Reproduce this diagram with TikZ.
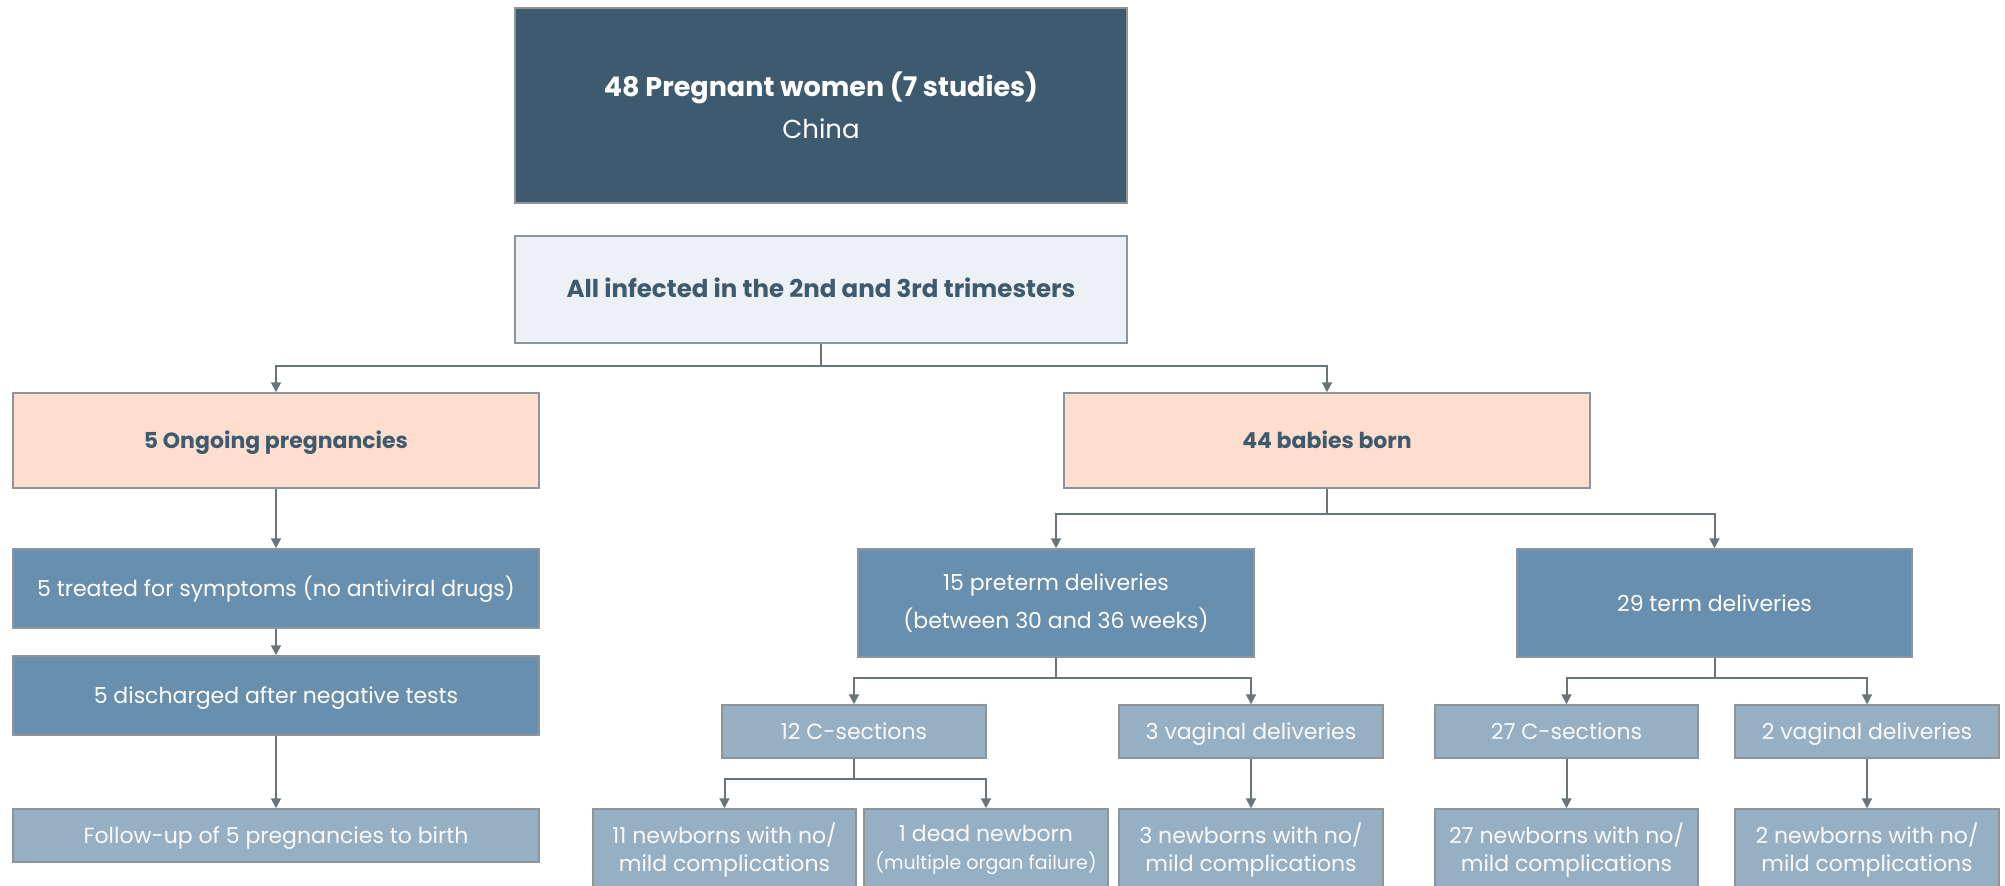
\documentclass[tikz,border=0pt]{standalone}
\usepackage{fontspec}
\setmainfont{Poppins}
\usetikzlibrary{arrows.meta}

\definecolor{ardoise}{HTML}{3E5A6E}
\definecolor{gris}{HTML}{EDF0F5}
\definecolor{peche}{HTML}{FEDFCF}
\definecolor{bleu}{HTML}{688FAD}
\definecolor{bleuclair}{HTML}{96AFC2}
\definecolor{trait}{HTML}{6A7479}
\definecolor{bord}{HTML}{8C959C}

\tikzset{
  boite/.style={draw=bord, line width=1.5pt, inner sep=0pt, align=center},
  titre/.style={boite, fill=ardoise, text=white, font=\fontsize{26}{42}\selectfont},
  entete/.style={boite, fill=gris, text=ardoise, font=\bfseries\fontsize{24.5}{30}\selectfont},
  groupe/.style={boite, fill=peche, text=ardoise, font=\bfseries\fontsize{22}{28}\selectfont},
  etape/.style={boite, fill=bleu, text=white, font=\fontsize{22}{38}\selectfont},
  issue/.style={boite, fill=bleuclair, text=white!94!bleuclair, font=\fontsize{22}{28}\selectfont},
  court/.style={text height=16pt, text depth=0pt},
  fleche/.style={draw=trait, line width=2pt, -{Triangle[length=10pt,width=10pt]}}
}

\begin{document}
\begin{tikzpicture}[x=1pt,y=-1pt]
    \useasboundingbox (0,0) rectangle (2005,886);

    % Les deux boites du haut
    \node[titre, minimum width=612pt, minimum height=195pt] (femmes) at (821,105.5)
        {{\bfseries\fontsize{27}{42}\selectfont 48 Pregnant women (7 studies)}\\China};
    \node[entete, court, minimum width=612pt, minimum height=107pt] (infect) at (821,289.5)
        {All infected in the 2nd and 3rd trimesters};

    % Les deux groupes
    \node[groupe, court, minimum width=526pt, minimum height=95pt] (encours) at (276,440.5) {5 Ongoing pregnancies};
    \node[groupe, court, minimum width=526pt, minimum height=95pt] (nes) at (1327,440.5) {44 babies born};

    % Colonne de gauche
    \node[etape, court, minimum width=526pt, minimum height=79pt] (traite) at (276,588.5)
        {5 treated for symptoms (no antiviral drugs)};
    \node[etape, court, minimum width=526pt, minimum height=79pt] (sortie) at (276,695.5)
        {5 discharged after negative tests};
    \node[issue, court, minimum width=526pt, minimum height=53pt] (suivi) at (276,835.5)
        {Follow-up of 5 pregnancies to birth};

    % Accouchements
    \node[etape, minimum width=396pt, minimum height=108pt] (preterme) at (1056,603)
        {15 preterm deliveries\\(between 30 and 36 weeks)};
    \node[etape, court, minimum width=395pt, minimum height=108pt] (terme) at (1714.5,603)
        {29 term deliveries};

    \node[issue, court, minimum width=264pt, minimum height=53pt] (cesA) at (854,731.5) {12 C-sections};
    \node[issue, court, minimum width=264pt, minimum height=53pt] (vagA) at (1251,731.5) {3 vaginal deliveries};
    \node[issue, court, minimum width=263pt, minimum height=53pt] (cesB) at (1566.5,731.5) {27 C-sections};
    \node[issue, court, minimum width=264pt, minimum height=53pt] (vagB) at (1867,731.5) {2 vaginal deliveries};

    % Nouveau-nes (coupes en bas)
    \node[issue, minimum width=263pt, minimum height=82pt] (nnA) at (724.5,850)
        {11 newborns with no/\\mild complications};
    \node[issue, minimum width=244pt, minimum height=82pt] (mort) at (986,850)
        {1 dead newborn\\{\fontsize{19}{28}\selectfont(multiple organ failure)}};
    \node[issue, minimum width=264pt, minimum height=82pt] (nnB) at (1251,850)
        {3 newborns with no/\\mild complications};
    \node[issue, minimum width=263pt, minimum height=82pt] (nnC) at (1566.5,850)
        {27 newborns with no/\\mild complications};
    \node[issue, minimum width=264pt, minimum height=82pt] (nnD) at (1867,850)
        {2 newborns with no/\\mild complications};

    % Fleches
    \draw[fleche] (infect.south) -- ++(0,22) -| (encours.north);
    \draw[fleche] (infect.south) -- ++(0,22) -| (nes.north);
    \draw[fleche] (encours) -- (traite);
    \draw[fleche] (traite) -- (sortie);
    \draw[fleche] (sortie) -- (suivi);

    \draw[fleche] (nes.south) -- ++(0,25) -| (preterme.north);
    \draw[fleche] (nes.south) -- ++(0,25) -| (terme.north);

    \draw[fleche] (preterme.south) -- ++(0,20) -| (cesA.north);
    \draw[fleche] (preterme.south) -- ++(0,20) -| (vagA.north);
    \draw[fleche] (cesA.south) -- ++(0,20) -| (nnA.north);
    \draw[fleche] (cesA.south) -- ++(0,20) -| (mort.north);
    \draw[fleche] (vagA) -- (nnB);

    \draw[fleche] (terme.south) -- ++(0,20) -| (cesB.north);
    \draw[fleche] (terme.south) -- ++(0,20) -| (vagB.north);
    \draw[fleche] (cesB) -- (nnC);
    \draw[fleche] (vagB) -- (nnD);
\end{tikzpicture}
\end{document}
